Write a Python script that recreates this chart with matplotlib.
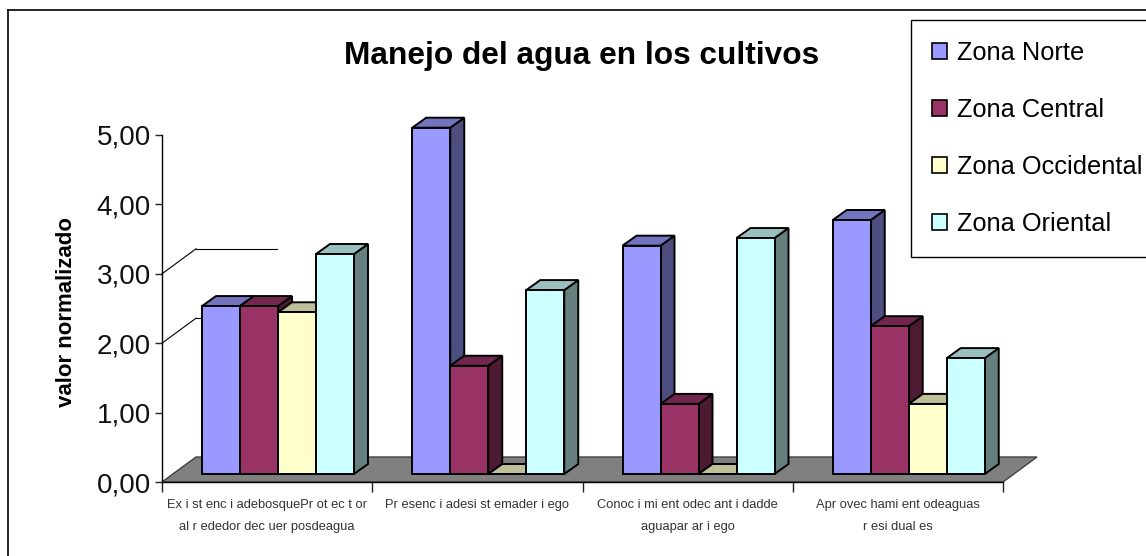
import matplotlib
matplotlib.use("Agg")
import matplotlib.pyplot as plt
from matplotlib.lines import Line2D
from matplotlib.patches import Patch, Polygon

# ------------------------------------------------------------
# DATA
# ------------------------------------------------------------
categories = ["Ex i st enc i adebosquePr ot ec t or\nal r ededor dec uer posdeagua",
              "Pr esenc i adesi st emader i ego",
              "Conoc i mi ent odec ant i dadde\naguapar ar i ego",
              "Apr ovec hami ent odeaguas\nr esi dual es"]
series = ["Zona Norte", "Zona Central", "Zona Occidental", "Zona Oriental"]
norte = [2.42, 4.99, 3.29, 3.66]
central = [2.42, 1.56, 1.01, 2.13]
occidental = [2.33, 0.0, 0.0, 1.01]
oriental = [3.17, 2.65, 3.40, 1.67]
yticks = [0, 1, 2, 3, 4, 5]
yticklabels = ["0,00", "1,00", "2,00", "3,00", "4,00", "5,00"]

front = ["#9999FF", "#993366", "#FFFFCC", "#CCFFFF"]
top = ["#7373BF", "#73264D", "#BFBF99", "#99BFBF"]
side = ["#4D4D80", "#4D1A33", "#808066", "#668080"]

W, H = 1146, 556
plt.rcParams["font.family"] = "Liberation Sans"

fig = plt.figure(figsize=(W / 100, H / 100), dpi=100)

# only the top and left sides of the chart frame are in the picture
fig.add_artist(Line2D([8 / W, 8 / W], [0, 1 - 10 / H], color="black", lw=1.2))
fig.add_artist(Line2D([8 / W, 1], [1 - 10 / H, 1 - 10 / H], color="black", lw=1.2))

# axes: x 162..1003 px, y 0 at 482 px and 5 at 135 px
ax = fig.add_axes([162 / W, 1 - 482 / H, (1003 - 162) / W, (482 - 135) / H])
ax.set_xlim(0, len(categories))
ax.set_ylim(0, 5)
ax.patch.set_visible(False)
for s in ["top", "right"]:
    ax.spines[s].set_visible(False)
ax.spines["left"].set_linewidth(1)
ax.spines["bottom"].set_linewidth(1)

# 3d offsets in data units
px_x = len(categories) / (1003 - 162)
px_y = 5 / (482 - 135)
floor_dx, floor_dy = 34 * px_x, 25 * px_y
base_y = 8 * px_y
dep_x, dep_y = 14 * px_x, 10 * px_y
bar_w = 38 * px_x
start = 40 * px_x
n = len(categories)

# floor
ax.add_patch(Polygon([(0, 0), (n, 0), (n + floor_dx, floor_dy), (floor_dx, floor_dy)],
                     fc="#808080", ec="#404040", lw=1, clip_on=False, zorder=1))
for v in [2, 3]:
    ax.plot([0, floor_dx], [v, v + floor_dy], color="black", lw=0.8, clip_on=False, zorder=1)
ax.plot([floor_dx, 115 * px_x], [3 + floor_dy, 3 + floor_dy], color="black", lw=0.8, zorder=1)
ax.plot([floor_dx, start], [2 + floor_dy, 2 + floor_dy], color="black", lw=0.8, zorder=1)

# bars, back faces first so that neighbours cover them
values = [norte, central, occidental, oriental]
for i in range(n):
    for j, vals in enumerate(values):
        v = vals[i]
        x0 = i + start + j * bar_w
        x1 = x0 + bar_w
        y1 = base_y + v
        z = 3 + j
        ax.add_patch(Polygon([(x1, base_y), (x1 + dep_x, base_y + dep_y),
                              (x1 + dep_x, y1 + dep_y), (x1, y1)],
                             fc=side[j], ec="black", lw=1.4, zorder=z, clip_on=False))
        ax.add_patch(Polygon([(x0, y1), (x1, y1), (x1 + dep_x, y1 + dep_y),
                              (x0 + dep_x, y1 + dep_y)],
                             fc=top[j], ec="black", lw=1.4, zorder=z, clip_on=False))
        ax.bar(x0, v, width=bar_w, bottom=base_y, align="edge", color=front[j],
               edgecolor="black", linewidth=1.4, zorder=z, clip_on=False)

ax.set_yticks(yticks)
ax.set_yticklabels(yticklabels, fontsize=20, color="#111111")
ax.set_xticks(range(n + 1))
ax.set_xticklabels([""] * (n + 1))
ax.tick_params(axis="x", direction="out", length=7, width=1, color="#222222")
ax.tick_params(axis="y", direction="out", length=5, width=1, pad=3, color="#222222")
for i, c in enumerate(categories):
    ax.text(i + 0.5, -0.25, c, ha="center", va="top", fontsize=9.3, color="#333333",
            linespacing=2.05)

fig.text(67 / W, 1 - 312 / H, "valor normalizado", rotation=90, ha="center", va="center",
         fontsize=16, fontweight="bold")
fig.text(582 / W, 1 - 56 / H, "Manejo del agua en los cultivos", ha="center", va="center",
         fontsize=22.8, fontweight="bold")

# legend
handles = [Patch(fc=front[j], ec="black", lw=1.2, label=series[j]) for j in range(4)]
leg = fig.legend(handles=handles, loc="upper left", bbox_to_anchor=(911 / W, 1 - 20 / H),
                 borderaxespad=0, frameon=True, fancybox=False, framealpha=1, edgecolor="black",
                 fontsize=18.3, labelspacing=1.3, handlelength=0.58, handleheight=0.58,
                 handletextpad=0.42, borderpad=0.82)
leg.get_frame().set_linewidth(1)

fig.savefig("out.png", dpi=100)
plt.close(fig)
